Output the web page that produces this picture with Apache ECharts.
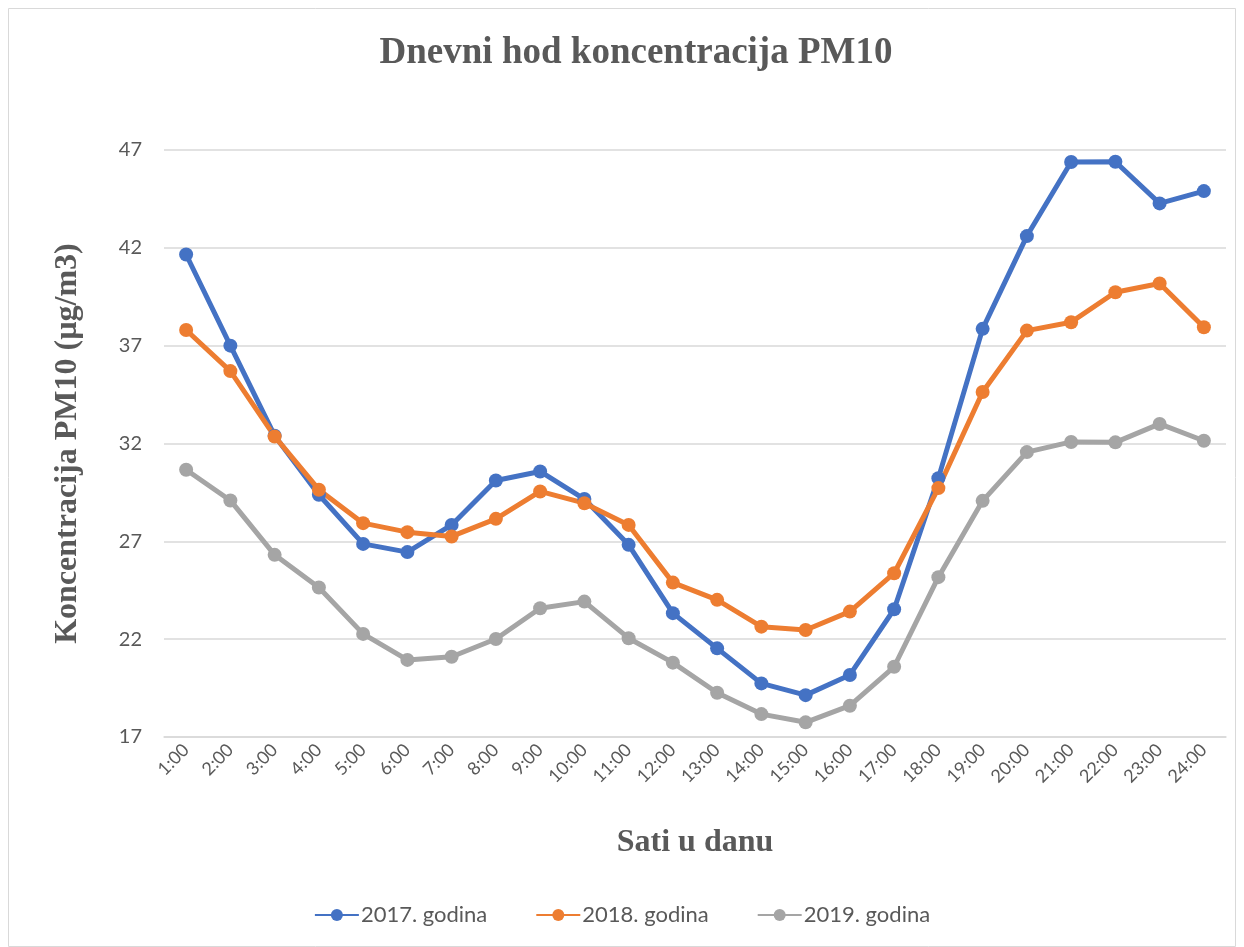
<!DOCTYPE html>
<html><head><meta charset="utf-8">
<script src="https://cdn.jsdelivr.net/npm/echarts@6/dist/echarts.min.js"></script>
<style>html,body{margin:0;padding:0;background:#fff}#c{width:1244px;height:947px}</style>
</head><body><div id="c"></div>
<script>
const categories = ['1:00','2:00','3:00','4:00','5:00','6:00','7:00','8:00','9:00','10:00','11:00','12:00','13:00','14:00','15:00','16:00','17:00','18:00','19:00','20:00','21:00','22:00','23:00','24:00'];
const s2017 = [41.66,37.0,32.4,29.38,26.87,26.45,27.84,30.11,30.57,29.16,26.82,23.33,21.53,19.74,19.14,20.17,23.53,30.23,37.86,42.6,46.39,46.4,44.27,44.9];
const s2018 = [37.8,35.7,32.36,29.64,27.93,27.47,27.25,28.15,29.55,28.95,27.84,24.89,24.01,22.64,22.47,23.41,25.37,29.72,34.63,37.77,38.2,39.73,40.18,37.94];
const s2019 = [30.66,29.09,26.31,24.64,22.27,20.94,21.1,22.01,23.58,23.92,22.05,20.8,19.26,18.17,17.75,18.6,20.59,25.17,29.07,31.56,32.08,32.06,33.0,32.14];
const seriesNames = ['2017. godina','2018. godina','2019. godina'];
const colors = ['#4472C4','#ED7D31','#A5A5A5'];
const yMin = 17, yMax = 47, yStep = 5;

const chart = echarts.init(document.getElementById('c'));
const mk = (name, data, color) => ({
  name, type: 'line', data, color,
  symbol: 'circle', symbolSize: 14,
  lineStyle: {width: 5, color},
  itemStyle: {color},
  emphasis: {disabled: true},
  animation: false
});
chart.setOption({
  animation: false,
  graphic: [{type:'rect', shape:{x:8.5,y:8.5,width:1227,height:938}, style:{fill:'none', stroke:'#d9d9d9', lineWidth:1}, silent:true}],
  title: {
    text: 'Dnevni hod koncentracija PM10', left: 631, top: 30, textAlign: 'center',
    textStyle: {fontFamily: 'Liberation Serif', fontWeight: 'bold', fontSize: 37, color: '#595959'}
  },
  legend: {
    bottom: 16, left: 'center', itemWidth: 44, itemHeight: 15, itemGap: 48,
    textStyle: {fontFamily: 'Lato', fontSize: 22, color: '#595959', padding:[0,0,0,-3]},
    data: seriesNames
  },
  grid: {left: 164, right: 18, top: 150, bottom: 210},
  xAxis: {
    type: 'category', data: categories, boundaryGap: true,
    name: 'Sati u danu', nameLocation: 'middle', nameGap: 90,
    nameTextStyle: {fontFamily: 'Liberation Serif', fontWeight: 'bold', fontSize: 32, color: '#595959'},
    axisLine: {lineStyle: {color: '#d9d9d9', width: 1.5}},
    axisTick: {show: false},
    axisLabel: {rotate: 45, fontFamily: 'Lato', fontSize: 18, color: '#595959', margin: 10, interval: 0}
  },
  yAxis: {
    type: 'value', min: yMin, max: yMax, interval: yStep,
    name: 'Koncentracija PM10 (µg/m3)', nameLocation: 'middle', nameGap: 80, nameRotate: 90,
    nameTextStyle: {fontFamily: 'Liberation Serif', fontWeight: 'bold', fontSize: 32, color: '#595959'},
    axisLine: {show: false}, axisTick: {show: false},
    axisLabel: {fontFamily: 'Lato', fontSize: 20, color: '#595959', margin: 22},
    splitLine: {lineStyle: {color: '#d9d9d9', width: 1.5}}
  },
  series: [mk(seriesNames[0], s2017, colors[0]), mk(seriesNames[1], s2018, colors[1]), mk(seriesNames[2], s2019, colors[2])]
});
</script></body></html>
